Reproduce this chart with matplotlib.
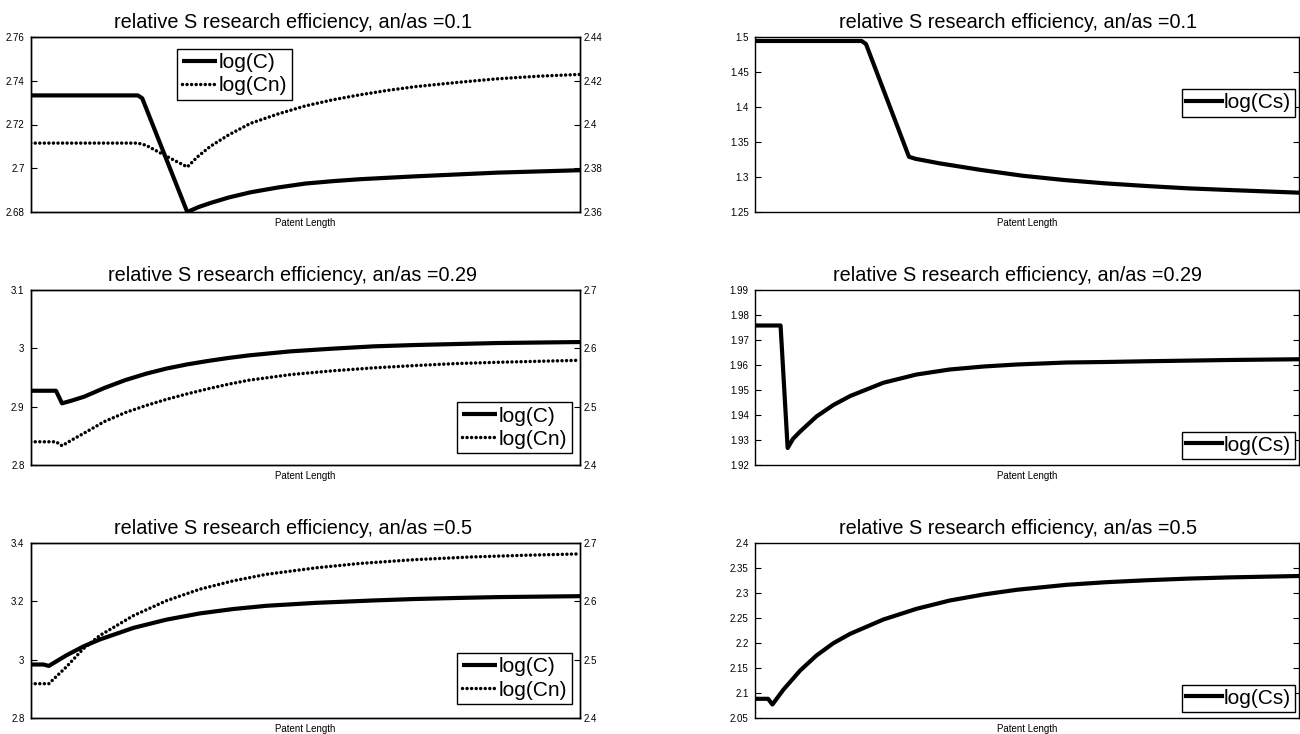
import matplotlib
matplotlib.use("Agg")
import matplotlib.pyplot as plt

plt.rcParams['font.family'] = ['Liberation Sans', 'DejaVu Sans']

titles = ["relative S research efficiency, an/as =0.1",
          "relative S research efficiency, an/as =0.29",
          "relative S research efficiency, an/as =0.5"]
xlabel = "Patent Length"

# ---- left column (log(C) on left axis, log(Cn) on right axis) ----
# an/as = 0.1
c1_x = [0, 19.5, 20.3, 28.5, 30.5, 32.7, 36, 40, 45, 50, 55, 60, 70, 85, 100]
c1_y = [2.7333, 2.7333, 2.7320, 2.6800, 2.6822, 2.6841, 2.6866, 2.6890, 2.6912, 2.6930,
        2.6941, 2.6950, 2.6963, 2.6980, 2.6991]
cn1_x = [0, 19.5, 21, 23.3, 26, 28.5, 30.5, 32.7, 36, 40, 45, 50, 55, 60, 65, 70, 77.5,
         85, 92.6, 100]
cn1_y = [2.3915, 2.3915, 2.3905, 2.3874, 2.3838, 2.3806, 2.3855, 2.3900, 2.3952, 2.4005,
         2.4048, 2.4085, 2.4113, 2.4136, 2.4156, 2.4173, 2.4192, 2.4209, 2.4221, 2.4229]
# an/as = 0.29
c2_x = [0, 4.6, 5.7, 7.5, 9.7, 13.4, 17.2, 21, 24.7, 28.5, 32.3, 36, 39.8, 47.4, 54.9,
        62.4, 70, 77.5, 85, 100]
c2_y = [2.9273, 2.9273, 2.9057, 2.9105, 2.9170, 2.9320, 2.9455, 2.9565, 2.9653, 2.9725,
        2.9784, 2.9835, 2.9880, 2.9949, 2.9994, 3.0034, 3.0057, 3.0074, 3.0091, 3.0108]
cn2_x = [0, 4.6, 5.7, 7.5, 9.7, 13.4, 17.2, 21, 24.7, 28.5, 32.3, 36, 39.8, 47.4, 54.9,
         62.4, 70, 77.5, 85, 100]
cn2_y = [2.4398, 2.4398, 2.4330, 2.4430, 2.4545, 2.4744, 2.4898, 2.5020, 2.5125, 2.5220,
         2.5307, 2.5385, 2.5455, 2.5551, 2.5614, 2.5665, 2.5705, 2.5739, 2.5761, 2.5795]
# an/as = 0.5
c3_x = [0, 2.3, 3.3, 6.5, 9.6, 12.6, 18.7, 24.7, 30.8, 36.8, 42.9, 52.0, 62.4, 70, 77.5,
        85, 100]
c3_y = [2.9834, 2.9834, 2.9786, 3.0149, 3.0455, 3.0693, 3.1090, 3.1372, 3.1586, 3.1735,
        3.1847, 3.1949, 3.2030, 3.2080, 3.2115, 3.2145, 3.2177]
cn3_x = [0, 3.3, 6.5, 9.6, 12.6, 18.7, 24.7, 30.8, 36.8, 42.9, 52.0, 60, 70, 80, 90, 100]
cn3_y = [2.4588, 2.4588, 2.4877, 2.5189, 2.5415, 2.5755, 2.6010, 2.6208, 2.6350, 2.6463,
         2.6575, 2.6650, 2.6715, 2.6760, 2.6790, 2.6813]

# ---- right column (log(Cs)) ----
cs1_x = [0, 19.6, 20.4, 28.3, 29.5, 34.0, 41.6, 49.2, 56.8, 64.4, 72.0, 79.6, 87.2, 100]
cs1_y = [1.4943, 1.4943, 1.4900, 1.3289, 1.3260, 1.3194, 1.3100, 1.3018, 1.2957, 1.2909,
         1.2871, 1.2838, 1.2814, 1.2776]
cs2_x = [0, 4.7, 6.0, 7.0, 8.3, 11.3, 14.4, 17.5, 23.6, 29.7, 35.8, 42.0, 48.1, 57.3,
         64.4, 72.0, 87.2, 100]
cs2_y = [1.9758, 1.9758, 1.9268, 1.9305, 1.9334, 1.9394, 1.9440, 1.9476, 1.9529, 1.9562,
         1.9582, 1.9594, 1.9602, 1.9610, 1.9612, 1.9615, 1.9620, 1.9623]
cs3_x = [0, 2.4, 3.2, 5.2, 8.3, 11.3, 14.4, 17.5, 23.6, 29.7, 35.8, 42.0, 48.1, 57.3,
         64.4, 72.0, 79.6, 87.2, 100]
cs3_y = [2.0884, 2.0884, 2.0770, 2.1064, 2.1450, 2.1750, 2.1996, 2.2184, 2.2470, 2.2684,
         2.2850, 2.2970, 2.3064, 2.3164, 2.3215, 2.3255, 2.3288, 2.3312, 2.3340]

left_lims = [(2.68, 2.76, 0.02), (2.8, 3.1, 0.1), (2.8, 3.4, 0.2)]
right_lims = [(2.36, 2.44, 0.02), (2.4, 2.7, 0.1), (2.4, 2.7, 0.1)]
cs_lims = [(1.25, 1.5, 0.05), (1.92, 1.99, 0.01), (2.05, 2.4, 0.05)]
cs_labels = [["1.25", "1.3", "1.35", "1.4", "1.45", "1.5"],
             ["1.92", "1.93", "1.94", "1.95", "1.96", "1.97", "1.98", "1.99"],
             ["2.05", "2.1", "2.15", "2.2", "2.25", "2.3", "2.35", "2.4"]]
left_labels = [["2.68", "2.7", "2.72", "2.74", "2.76"], ["2.8", "2.9", "3", "3.1"],
               ["2.8", "3", "3.2", "3.4"]]
right_labels = [["2.36", "2.38", "2.4", "2.42", "2.44"], ["2.4", "2.5", "2.6", "2.7"],
                ["2.4", "2.5", "2.6", "2.7"]]

C_data = [(c1_x, c1_y), (c2_x, c2_y), (c3_x, c3_y)]
Cn_data = [(cn1_x, cn1_y), (cn2_x, cn2_y), (cn3_x, cn3_y)]
Cs_data = [(cs1_x, cs1_y), (cs2_x, cs2_y), (cs3_x, cs3_y)]

W, H = 1300, 734
fig = plt.figure(figsize=(W / 100, H / 100), dpi=100)

bottoms_px = [212, 465, 718]
ax_h = 175
tick_fs = 7
title_fs = 14.3
dotted = (0, (0.01, 1.3))


def frac(x0, x1, ybot):
    return [x0 / W, 1 - ybot / H, (x1 - x0) / W, ax_h / H]


def style_axis(a, pad=4.5):
    a.tick_params(direction='in', length=4, width=0.8, labelsize=tick_fs, pad=pad)
    for s in a.spines.values():
        s.set_linewidth(1.0)


legend_pos_left = [dict(loc='upper left', bbox_to_anchor=(0.267, 0.931)),
                   dict(loc='lower right', bbox_to_anchor=(0.985, 0.069)),
                   dict(loc='lower right', bbox_to_anchor=(0.985, 0.081))]
legend_pos_right = [dict(loc='center right', bbox_to_anchor=(0.9926, 0.623)),
                    dict(loc='lower right', bbox_to_anchor=(0.9926, 0.035)),
                    dict(loc='lower right', bbox_to_anchor=(0.9926, 0.035))]

legkw = dict(fontsize=15, frameon=True, fancybox=False, framealpha=1, edgecolor='black',
             borderpad=0.2, handletextpad=0.1, handlelength=1.7, labelspacing=0.2,
             borderaxespad=0)

for i in range(3):
    # left column
    ax = fig.add_axes(frac(30.7, 580, bottoms_px[i]))
    ax2 = ax.twinx()
    lo, hi, st = left_lims[i]
    l1, = ax.plot(*C_data[i], color='black', lw=3, solid_joinstyle='round',
                  solid_capstyle='butt', label='log(C)')
    ax.set_ylim(lo, hi)
    ax.set_yticks([lo + k * st for k in range(len(left_labels[i]))])
    ax.set_yticklabels(left_labels[i])
    ax.set_xlim(0, 100)
    ax.set_xticks([])
    ax.set_xlabel(xlabel, fontsize=tick_fs, labelpad=4)
    ax.set_title(titles[i], fontsize=title_fs, pad=6.5, x=0.477)
    lo2, hi2, st2 = right_lims[i]
    l2, = ax2.plot(*Cn_data[i], color='black', lw=2.5, linestyle=dotted,
                   dash_capstyle='round', label='log(Cn)')
    ax2.set_ylim(lo2, hi2)
    ax2.set_yticks([lo2 + k * st2 for k in range(len(right_labels[i]))])
    ax2.set_yticklabels(right_labels[i])
    ax2.set_xlim(0, 100)
    style_axis(ax)
    style_axis(ax2, pad=2.5)
    leg = ax2.legend([l1, l2], ['log(C)', 'log(Cn)'], **legend_pos_left[i], **legkw)
    leg.get_frame().set_linewidth(1.0)

    # right column
    axr = fig.add_axes(frac(755, 1299, bottoms_px[i]))
    lo, hi, st = cs_lims[i]
    axr.plot(*Cs_data[i], color='black', lw=3, solid_joinstyle='round',
             label='log(Cs)')
    axr.set_ylim(lo, hi)
    axr.set_yticks([lo + k * st for k in range(len(cs_labels[i]))])
    axr.set_yticklabels(cs_labels[i])
    axr.set_xlim(0, 100)
    axr.set_xticks([])
    axr.set_xlabel(xlabel, fontsize=tick_fs, labelpad=4)
    axr.set_title(titles[i], fontsize=title_fs, pad=6.5, x=0.483)
    style_axis(axr)
    axr.tick_params(right=True, labelright=False)
    leg = axr.legend(**legend_pos_right[i], **legkw)
    leg.get_frame().set_linewidth(1.0)

fig.savefig("out.png", dpi=100)
